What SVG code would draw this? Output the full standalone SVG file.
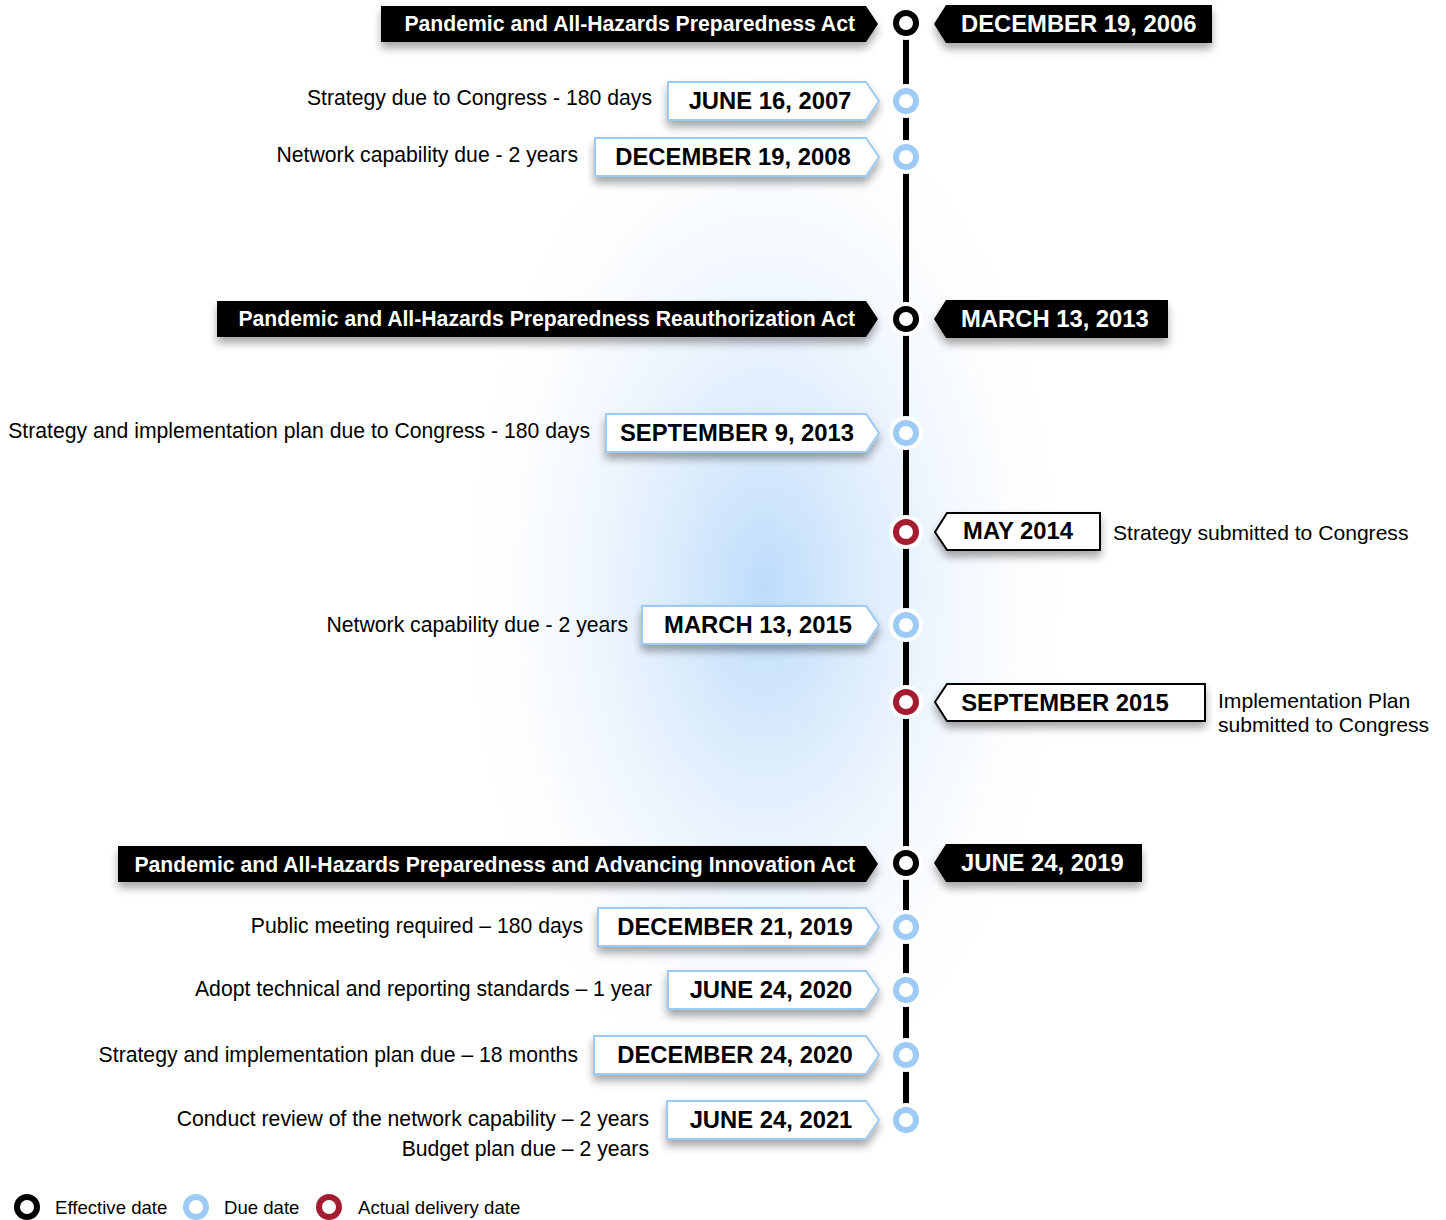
<svg xmlns="http://www.w3.org/2000/svg" width="1446" height="1220" viewBox="0 0 1446 1220">
<defs>
  <radialGradient id="glow" cx="0.5" cy="0.5" r="0.5">
    <stop offset="0" stop-color="#bcdcfb" stop-opacity="1"/>
    <stop offset="0.35" stop-color="#d9eafc" stop-opacity="0.8"/>
    <stop offset="1" stop-color="#ffffff" stop-opacity="0"/>
  </radialGradient>
  <filter id="sh" x="-10%" y="-40%" width="120%" height="200%">
    <feDropShadow dx="0" dy="6" stdDeviation="4" flood-color="#000" flood-opacity="0.35"/>
  </filter>
  <style>
    .ban{fill:#000;filter:url(#sh)}
    .bt{font-family:"Liberation Sans",Arial,sans-serif;font-weight:bold;font-size:21.2px;fill:#fff;text-anchor:end}
    .dt{font-family:"Liberation Sans",Arial,sans-serif;font-weight:bold;font-size:23.8px;fill:#fff}
    .due{fill:#fff;stroke:#9ccaf5;stroke-width:2;filter:url(#sh)}
    .act{fill:#fff;stroke:#000;stroke-width:2;filter:url(#sh)}
    .bx{font-family:"Liberation Sans",Arial,sans-serif;font-weight:bold;font-size:23.8px;fill:#000;text-anchor:middle}
    .lb{font-family:"Liberation Sans",Arial,sans-serif;font-size:21.2px;fill:#000;text-anchor:end}
    .lr{font-family:"Liberation Sans",Arial,sans-serif;font-size:21.1px;fill:#000}
    .lg{font-family:"Liberation Sans",Arial,sans-serif;font-size:18.6px;fill:#000}
    .halo{fill:#fff}
    .ce{fill:#fff;stroke:#000;stroke-width:6}
    .cd{fill:#fff;stroke:#9dcbf5;stroke-width:6}
    .ca{fill:#fff;stroke:#a51c30;stroke-width:6}
  </style>
</defs>
<rect width="1446" height="1220" fill="#fff"/>
<ellipse cx="765" cy="590" rx="330" ry="560" fill="url(#glow)"/>

<g id="connectors">
  <line x1="906" y1="30" x2="906" y2="1112" stroke="#000" stroke-width="6"/>
</g>

<g id="markers">
  <circle class="halo" cx="906" cy="23" r="17"/><circle class="ce" cx="906" cy="23" r="10"/>
  <circle class="halo" cx="906" cy="101" r="17"/><circle class="cd" cx="906" cy="101" r="10"/>
  <circle class="halo" cx="906" cy="157" r="17"/><circle class="cd" cx="906" cy="157" r="10"/>
  <circle class="halo" cx="906" cy="319" r="17"/><circle class="ce" cx="906" cy="319" r="10"/>
  <circle class="halo" cx="906" cy="433" r="17"/><circle class="cd" cx="906" cy="433" r="10"/>
  <circle class="halo" cx="906" cy="532" r="17"/><circle class="ca" cx="906" cy="532" r="10"/>
  <circle class="halo" cx="906" cy="625" r="17"/><circle class="cd" cx="906" cy="625" r="10"/>
  <circle class="halo" cx="906" cy="702" r="17"/><circle class="ca" cx="906" cy="702" r="10"/>
  <circle class="halo" cx="906" cy="863" r="17"/><circle class="ce" cx="906" cy="863" r="10"/>
  <circle class="halo" cx="906" cy="927" r="17"/><circle class="cd" cx="906" cy="927" r="10"/>
  <circle class="halo" cx="906" cy="990" r="17"/><circle class="cd" cx="906" cy="990" r="10"/>
  <circle class="halo" cx="906" cy="1055" r="17"/><circle class="cd" cx="906" cy="1055" r="10"/>
  <circle class="halo" cx="906" cy="1120" r="17"/><circle class="cd" cx="906" cy="1120" r="10"/>
</g>

<g id="act-2006">
  <polygon class="ban" points="381,6 866,6 878,24 866,42 381,42"/>
  <text class="bt" x="855" y="31">Pandemic and All-Hazards Preparedness Act</text>
  <polygon class="ban" points="934,24 946,5 1212,5 1212,43 946,43"/>
  <text class="dt" x="961" y="32">DECEMBER 19, 2006</text>
</g>

<g id="due-2007">
  <polygon class="due" points="668,82 866,82 879,101 866,120 668,120"/>
  <text class="bx" x="770" y="109">JUNE 16, 2007</text>
  <text class="lb" x="652" y="105">Strategy due to Congress - 180 days</text>
</g>

<g id="due-2008">
  <polygon class="due" points="595,138 866,138 879,157 866,176 595,176"/>
  <text class="bx" x="733" y="165">DECEMBER 19, 2008</text>
  <text class="lb" x="578" y="162">Network capability due - 2 years</text>
</g>

<g id="act-2013">
  <polygon class="ban" points="217,301 866,301 878,319 866,337 217,337"/>
  <text class="bt" x="855" y="326">Pandemic and All-Hazards Preparedness Reauthorization Act</text>
  <polygon class="ban" points="934,319 946,300 1168,300 1168,338 946,338"/>
  <text class="dt" x="961" y="327">MARCH 13, 2013</text>
</g>

<g id="due-2013">
  <polygon class="due" points="606,414 866,414 879,433 866,452 606,452"/>
  <text class="bx" x="737" y="441">SEPTEMBER 9, 2013</text>
  <text class="lb" x="590" y="438">Strategy and implementation plan due to Congress - 180 days</text>
</g>

<g id="actual-2014">
  <polygon class="act" points="935,532 947,513 1100,513 1100,550 947,550"/>
  <text class="bx" x="1018" y="539">MAY 2014</text>
  <text class="lr" x="1113" y="540">Strategy submitted to Congress</text>
</g>

<g id="due-2015">
  <polygon class="due" points="642,606 866,606 879,625 866,644 642,644"/>
  <text class="bx" x="758" y="633">MARCH 13, 2015</text>
  <text class="lb" x="628" y="632">Network capability due - 2 years</text>
</g>

<g id="actual-2015">
  <polygon class="act" points="935,702 947,684 1205,684 1205,721 947,721"/>
  <text class="bx" x="1065" y="711">SEPTEMBER 2015</text>
  <text class="lr" x="1218" y="708">Implementation Plan</text>
  <text class="lr" x="1218" y="732">submitted to Congress</text>
</g>

<g id="act-2019">
  <polygon class="ban" points="118,846 866,846 878,864 866,882 118,882"/>
  <text class="bt" x="855" y="872">Pandemic and All-Hazards Preparedness and Advancing Innovation Act</text>
  <polygon class="ban" points="934,863 946,844 1142,844 1142,882 946,882"/>
  <text class="dt" x="961" y="871">JUNE 24, 2019</text>
</g>

<g id="due-2019">
  <polygon class="due" points="598,908 866,908 879,927 866,946 598,946"/>
  <text class="bx" x="735" y="935">DECEMBER 21, 2019</text>
  <text class="lb" x="583" y="933">Public meeting required – 180 days</text>
</g>

<g id="due-2020a">
  <polygon class="due" points="668,971 866,971 879,990 866,1009 668,1009"/>
  <text class="bx" x="771" y="998">JUNE 24, 2020</text>
  <text class="lb" x="652" y="996">Adopt technical and reporting standards – 1 year</text>
</g>

<g id="due-2020b">
  <polygon class="due" points="594,1036 866,1036 879,1055 866,1074 594,1074"/>
  <text class="bx" x="735" y="1063">DECEMBER 24, 2020</text>
  <text class="lb" x="578" y="1062">Strategy and implementation plan due – 18 months</text>
</g>

<g id="due-2021">
  <polygon class="due" points="667,1101 866,1101 879,1120 866,1139 667,1139"/>
  <text class="bx" x="771" y="1128">JUNE 24, 2021</text>
  <text class="lb" x="649" y="1126">Conduct review of the network capability – 2 years</text>
  <text class="lb" x="649" y="1156">Budget plan due – 2 years</text>
</g>

<g id="legend">
  <circle class="ce" cx="27" cy="1207" r="10"/>
  <text class="lg" x="55" y="1214">Effective date</text>
  <circle class="cd" cx="196" cy="1207" r="10"/>
  <text class="lg" x="224" y="1214">Due date</text>
  <circle class="ca" cx="329" cy="1207" r="10"/>
  <text class="lg" x="358" y="1214">Actual delivery date</text>
</g>
</svg>
